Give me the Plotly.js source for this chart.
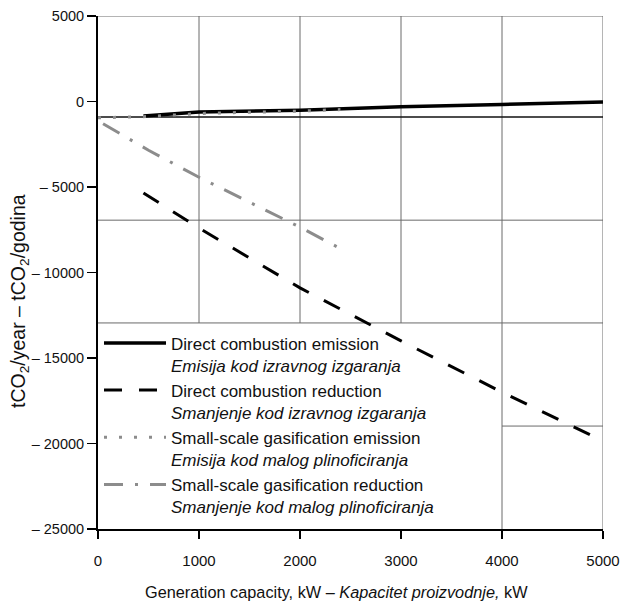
<!DOCTYPE html>
<html>
<head>
<meta charset="utf-8">
<script src="https://cdn.plot.ly/plotly-3.0.1.min.js"></script>
<style>html,body{margin:0;padding:0;background:#fff;}#chart{width:622px;height:610px;}</style>
</head>
<body>
<div id="chart"></div>
<script>
// ---- data ----
const dcEmissionX = [450, 1000, 2000, 3000, 4000, 5000];
const dcEmissionY = [-850, -620, -510, -300, -170, -30];

const dcReductionX = [450, 1000, 2000, 3000, 4000, 5000];
const dcReductionY = [-5350, -7400, -10900, -14000, -17000, -19850];

const gasEmissionX = [0, 500, 1000, 1500, 2000, 2400];
const gasEmissionY = [-950, -880, -700, -640, -560, -470];

const gasReductionX = [50, 500, 1000, 1500, 2000, 2400];
const gasReductionY = [-1300, -2850, -4430, -5900, -7350, -8600];

const seriesNames = [
  'Direct combustion emission<br><i>Emisija kod izravnog izgaranja</i>',
  'Direct combustion reduction<br><i>Smanjenje kod izravnog izgaranja</i>',
  'Small-scale gasification emission<br><i>Emisija kod malog plinoficiranja</i>',
  'Small-scale gasification reduction<br><i>Smanjenje kod malog plinoficiranja</i>'
];

const xTickVals = [0, 1000, 2000, 3000, 4000, 5000];
const xTickText = ['0', '1000', '2000', '3000', '4000', '5000'];
const yTickVals = [5000, 0, -5000, -10000, -15000, -20000, -25000];
const yTickText = ['5000', '0', '\u2013 5000', '\u2013 10000', '\u2013 15000', '\u2013 20000', '\u2013 25000'];

// ---- chart ----
const FONT = '"Liberation Sans", Arial, sans-serif';
const GRID = '#6a6a6a';

const traces = [
  {x: dcEmissionX, y: dcEmissionY, name: seriesNames[0], mode: 'lines',
   line: {color: '#000', width: 3.5}},
  {x: dcReductionX, y: dcReductionY, name: seriesNames[1], mode: 'lines',
   line: {color: '#000', width: 3, dash: '18px,17px'}},
  {x: gasEmissionX, y: gasEmissionY, name: seriesNames[2], mode: 'lines',
   line: {color: '#8c8c8c', width: 3, dash: '3px,12px'}},
  {x: gasReductionX, y: gasReductionY, name: seriesNames[3], mode: 'lines',
   line: {color: '#8c8c8c', width: 3, dash: '19px,12px,3px,12px'}}
];

function seg(x0, y0, x1, y1, color, width) {
  return {type: 'line', xref: 'x', yref: 'y', x0: x0, y0: y0, x1: x1, y1: y1,
          layer: 'below', line: {color: color, width: width}};
}

const shapes = [
  seg(0, 5000, 5000, 5000, GRID, 1),
  seg(5000, 5000, 5000, -25000, GRID, 1),
  seg(1000, 5000, 1000, -12950, GRID, 1),
  seg(2000, 5000, 2000, -12950, GRID, 1),
  seg(3000, 5000, 3000, -12950, GRID, 1),
  seg(4000, 5000, 4000, -25000, GRID, 1),
  seg(0, -6940, 5000, -6940, GRID, 1),
  seg(0, -12950, 5000, -12950, GRID, 1),
  seg(4000, -18980, 5000, -18980, GRID, 1),
  seg(0, -910, 5000, -910, '#111', 1.6)
];

const layout = {
  width: 622, height: 610,
  margin: {l: 98, r: 19, t: 16, b: 81},
  paper_bgcolor: '#fff', plot_bgcolor: '#fff',
  font: {family: FONT, size: 14, color: '#111'},
  showlegend: true,
  legend: {x: 0.002, y: 0.397, xanchor: 'left', yanchor: 'top', valign: 'top',
           bgcolor: 'rgba(0,0,0,0)', borderwidth: 0,
           font: {family: FONT, size: 17, color: '#111'},
           itemwidth: 62, tracegroupgap: 0},
  xaxis: {range: [0, 5000], tickvals: xTickVals, ticktext: xTickText,
          showgrid: false, zeroline: false, showline: true, linecolor: '#000', linewidth: 2,
          ticks: 'outside', ticklen: 8, tickwidth: 1.5, tickcolor: '#000',
          ticklabelstandoff: 9, tickfont: {family: FONT, size: 15, color: '#111'}},
  yaxis: {range: [-25000, 5000], tickvals: yTickVals, ticktext: yTickText,
          showgrid: false, zeroline: false, showline: true, linecolor: '#000', linewidth: 2,
          ticks: 'outside', ticklen: 9, tickwidth: 1.5, tickcolor: '#000',
          tickfont: {family: FONT, size: 14.5, color: '#111'}},
  shapes: shapes,
  annotations: [
    {xref: 'paper', yref: 'paper', x: -0.156, y: 0.445, xanchor: 'center', yanchor: 'middle',
     textangle: -90, showarrow: false,
     text: 'tCO<sub>2</sub>/year \u2013 tCO<sub>2</sub>/godina',
     font: {family: FONT, size: 19.5, color: '#111'}},
    {xref: 'paper', yref: 'paper', x: 0.472, y: -0.123, xanchor: 'center', yanchor: 'middle',
     showarrow: false,
     text: 'Generation capacity, kW \u2013 <i>Kapacitet proizvodnje,</i> kW',
     font: {family: FONT, size: 16.3, color: '#111'}}
  ]
};

Plotly.newPlot('chart', traces, layout, {displayModeBar: false, staticPlot: true});
</script>
</body>
</html>
